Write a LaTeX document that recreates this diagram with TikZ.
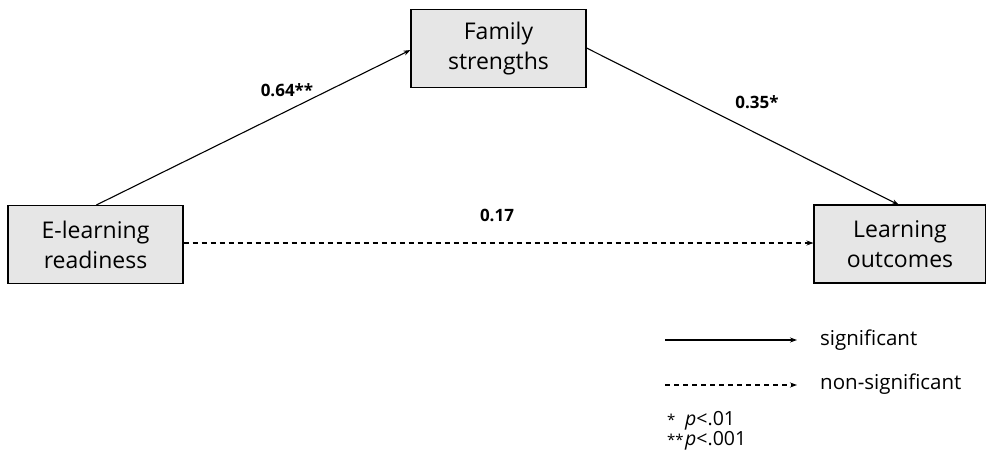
\documentclass[tikz,border=0pt]{standalone}
\usepackage{fontspec}
\setmainfont{Open Sans}
\usetikzlibrary{arrows.meta}
\definecolor{boxgray}{HTML}{E6E6E6}
\newcommand{\smallast}[1]{{\fontsize{15}{15}\selectfont #1}}
\begin{document}
\begin{tikzpicture}[x=1pt,y=-1pt,
  varbox/.style={draw=black, line width=1.1pt, fill=boxgray, minimum width=175pt, minimum height=78pt, inner sep=0pt, align=center, font=\fontsize{23}{30}\selectfont},
  conn/.style={line width=1.1pt, -{Stealth[length=7pt,width=5pt]}},
  coef/.style={font=\fontsize{17}{19}\selectfont\bfseries},
  legtext/.style={font=\fontsize{20.5}{22}\selectfont, anchor=west, inner sep=0pt}]
\useasboundingbox (0,0) rectangle (986,458);
\node[varbox] (elr) at (95.5,244.5) {E-learning\\readiness};
\node[varbox] (fam) at (498.5,48.5) {Family\\strengths};
\node[varbox, minimum width=172pt] (lo) at (900,244) {Learning\\outcomes};
\draw[conn] (elr.north west) ++(89,0) coordinate (a1) -- (fam.west |- 0,50) coordinate (a2);
\coordinate (b1) at (fam.east |- 0,48);
\coordinate (b2) at (899,205);
\draw[conn] (b1) -- (b2);
\draw[conn, dashed, dash pattern=on 5pt off 4pt] (elr.east |- 0,243) -- (lo.west |- 0,243);
\node[coef] (c1) at (287,90) {0.64**};
\node[coef] (c2) at (757,102) {0.35*};
\node[coef] (c3) at (497,215) {0.17};
\coordinate (l1a) at (665,340);
\coordinate (l1b) at (797,340);
\coordinate (l2a) at (665,385);
\coordinate (l2b) at (797,385);
\draw[conn] (l1a) -- (l1b);
\draw[conn, dashed, dash pattern=on 5pt off 4pt] (l2a) -- (l2b);
\node[legtext] (t1) at (820,340) {significant};
\node[legtext] (t2) at (820,384) {non-significant};
\node[legtext, align=left, font=\fontsize{19.5}{17}\selectfont] (t3) at (667,431)
  {\makebox[18pt][l]{\smallast{*}}\textit{p}<.01\\\makebox[18pt][l]{\smallast{**}}\textit{p}<.001};
\end{tikzpicture}
\end{document}
